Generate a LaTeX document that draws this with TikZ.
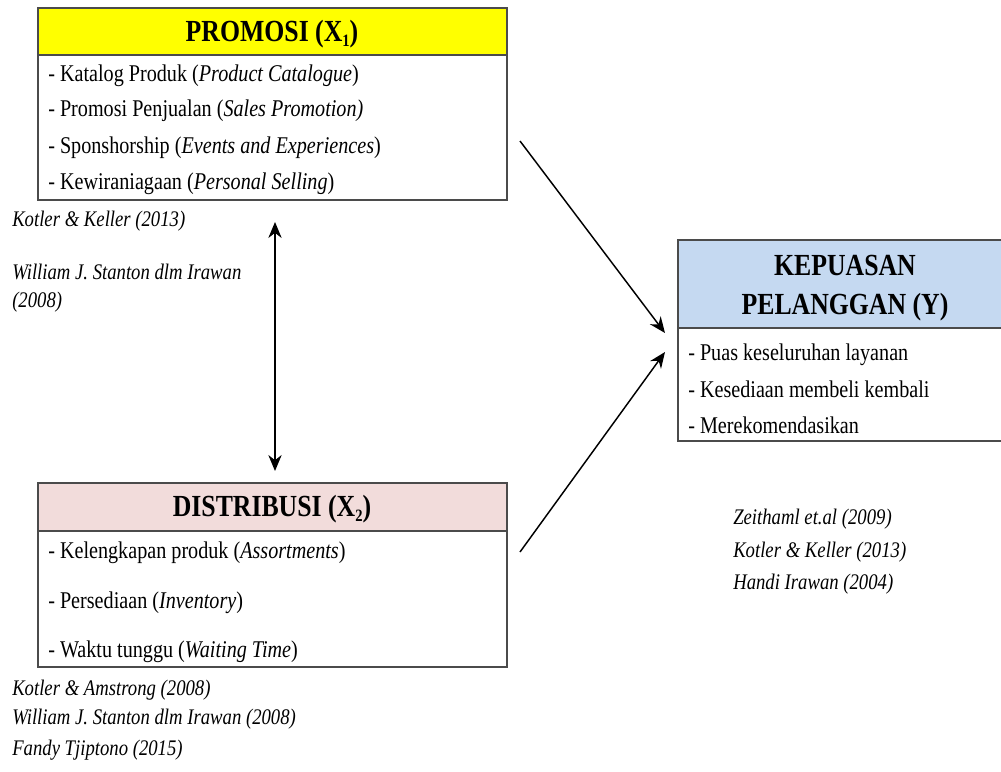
\documentclass[tikz,border=0pt]{standalone}
\usepackage{fontspec}
\setmainfont{Liberation Serif}[FakeStretch=0.84]
\usetikzlibrary{arrows.meta}
\definecolor{hyellow}{RGB}{255,255,0}
\definecolor{hpink}{RGB}{242,220,219}
\definecolor{hblue}{RGB}{197,217,241}
\definecolor{bordergray}{RGB}{75,75,75}
\newcommand{\lowsub}[1]{\raisebox{-0.35ex}{\fontsize{13}{13}\selectfont #1}}
\tikzset{
  boxpart/.style={draw=bordergray, line width=1.2pt, anchor=north west, inner sep=0pt, outer sep=0pt},
  titletext/.style={font=\fontsize{23}{27}\selectfont\bfseries, align=center, inner sep=0pt},
  itemtext/.style={font=\fontsize{18}{20}\selectfont, anchor=west, inner sep=0pt},
  citetext/.style={font=\fontsize{16.7}{18}\selectfont\itshape, anchor=west, inner sep=0pt},
  arr/.style={line width=1.1pt, -{Stealth[length=12pt,width=10pt]}},
  darr/.style={line width=1.1pt, {Stealth[length=12pt,width=10pt]}-{Stealth[length=12pt,width=10pt]}}
}
\begin{document}
\begin{tikzpicture}[x=0.75pt,y=-0.75pt]
\clip (0,0) rectangle (1001,772);
\fill[white] (0,0) rectangle (1001,772);

% PROMOSI
\node[boxpart, fill=hyellow, minimum width=469*0.75pt, minimum height=47*0.75pt] (ph) at (38,8) {};
\node[boxpart, fill=white, minimum width=469*0.75pt, minimum height=145*0.75pt] (pb) at (38,55) {};
\node[titletext] (pt) at (272,34) {PROMOSI (X\lowsub{1})};
\node[itemtext] (p1) at (48,76) {- Katalog Produk (\textit{Product Catalogue})};
\node[itemtext] (p2) at (48,111) {- Promosi Penjualan (\textit{Sales Promotion)}};
\node[itemtext] (p3) at (48,148) {- Sponshorship (\textit{Events and Experiences})};
\node[itemtext] (p4) at (48,184) {- Kewiraniagaan (\textit{Personal Selling})};

% DISTRIBUSI
\node[boxpart, fill=hpink, minimum width=469*0.75pt, minimum height=48*0.75pt] (dh) at (38,483) {};
\node[boxpart, fill=white, minimum width=469*0.75pt, minimum height=136*0.75pt] (db) at (38,531) {};
\node[titletext] (dt) at (272,509) {DISTRIBUSI (X\lowsub{2})};
\node[itemtext] (d1) at (48,553) {- Kelengkapan produk (\textit{Assortments})};
\node[itemtext] (d2) at (48,603) {- Persediaan (\textit{Inventory})};
\node[itemtext] (d3) at (48,652) {- Waktu tunggu (\textit{Waiting Time})};

% KEPUASAN
\node[boxpart, fill=hblue, minimum width=335*0.75pt, minimum height=88*0.75pt] (kh) at (678,240) {};
\node[boxpart, fill=white, minimum width=335*0.75pt, minimum height=113*0.75pt] (kb) at (678,328) {};
\node[titletext] (kt) at (845,288) {KEPUASAN\\[2pt]PELANGGAN (Y)};
\node[itemtext] (k1) at (688,355) {- Puas keseluruhan layanan};
\node[itemtext] (k2) at (688,389) {- Kesediaan membeli kembali};
\node[itemtext] (k3) at (688,425) {- Merekomendasikan};

% Citations
\node[citetext] (c1) at (12,221) {Kotler \& Keller (2013)};
\node[citetext] (c2) at (12,272) {William J. Stanton dlm Irawan};
\node[citetext] (c3) at (12,302) {(2008)};
\node[citetext] (c4) at (12,690) {Kotler \& Amstrong (2008)};
\node[citetext] (c5) at (12,719) {William J. Stanton dlm Irawan (2008)};
\node[citetext] (c6) at (12,750) {Fandy Tjiptono (2015)};
\node[citetext] (c7) at (733,519) {Zeithaml et.al (2009)};
\node[citetext] (c8) at (733,552) {Kotler \& Keller (2013)};
\node[citetext] (c9) at (733,584) {Handi Irawan (2004)};

% Connectors
\coordinate (va) at (275,222);
\coordinate (vb) at (275,471);
\coordinate (pa) at (520,141);
\coordinate (pe) at (665,333);
\coordinate (da) at (520,552);
\coordinate (de) at (665,352);
\draw[darr] (va) -- (vb);
\draw[arr] (pa) -- (pe);
\draw[arr] (da) -- (de);
\end{tikzpicture}
\end{document}
